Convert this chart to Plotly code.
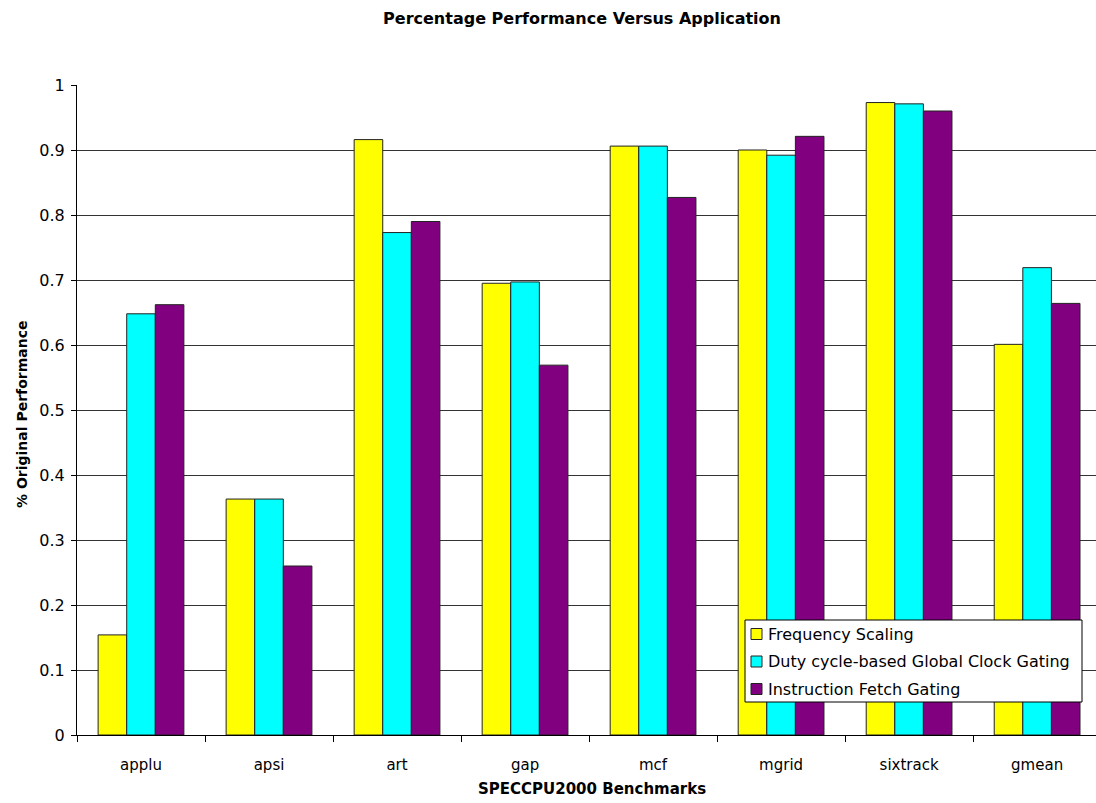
import plotly.graph_objects as go

benchmarks = ["applu", "apsi", "art", "gap", "mcf", "mgrid", "sixtrack", "gmean"]
freq_scaling = [0.154, 0.363, 0.916, 0.695, 0.906, 0.900, 0.973, 0.601]
duty_cycle_gating = [0.648, 0.363, 0.773, 0.697, 0.906, 0.892, 0.971, 0.719]
fetch_gating = [0.662, 0.260, 0.790, 0.569, 0.827, 0.921, 0.960, 0.664]
y_ticks = [0, 0.1, 0.2, 0.3, 0.4, 0.5, 0.6, 0.7, 0.8, 0.9, 1]
y_tick_text = ["0", "0.1", "0.2", "0.3", "0.4", "0.5", "0.6", "0.7", "0.8", "0.9", "1"]

series = [
    ("Frequency Scaling", freq_scaling, "#FFFF00"),
    ("Duty cycle-based Global Clock Gating", duty_cycle_gating, "#00FFFF"),
    ("Instruction Fetch Gating", fetch_gating, "#800080"),
]

font_family = "DejaVu Sans, Arial, sans-serif"
outline = "#222222"

# plot area geometry (pixels)
W, H = 1096, 803
L, R, T, B = 77, 0, 85, 68
PW, PH = W - L - R, H - T - B
Y0 = H - B  # pixel row of the x axis


def px_x(p):
    return (p - L) / PW


def px_y(p):
    return (Y0 - p) / PH


fig = go.Figure()
for name, vals, color in series:
    fig.add_trace(go.Bar(
        name=name, x=benchmarks, y=vals, showlegend=False,
        marker=dict(color=color, line=dict(color=outline, width=1)),
    ))

# boxed legend in the lower right of the plot area
leg_left, leg_right, leg_top, leg_bottom = 745, 1082, 620, 702
row_h = 27.5
shapes = [dict(type="rect", xref="paper", yref="paper",
               x0=px_x(leg_left), x1=px_x(leg_right),
               y0=px_y(leg_bottom), y1=px_y(leg_top),
               fillcolor="white", line=dict(color="black", width=1),
               layer="above")]
annotations = []
for i, (name, _, color) in enumerate(series):
    cy = leg_top + 14 + i * row_h
    shapes.append(dict(type="rect", xref="paper", yref="paper",
                       x0=px_x(751), x1=px_x(762),
                       y0=px_y(cy + 5.5), y1=px_y(cy - 5.5),
                       fillcolor=color, line=dict(color=outline, width=1),
                       layer="above"))
    annotations.append(dict(text=name, xref="paper", yref="paper",
                            x=px_x(766), y=px_y(cy), xanchor="left",
                            yanchor="middle", showarrow=False,
                            font=dict(size=16)))

annotations += [
    dict(text="<b>SPECCPU2000 Benchmarks</b>", xref="paper", yref="paper",
         x=px_x(592), y=px_y(789),
         xanchor="center", yanchor="middle", showarrow=False,
         font=dict(size=15)),
    dict(text="<b>% Original Performance</b>", xref="paper", yref="paper",
         x=px_x(22), y=px_y(415),
         xanchor="center", yanchor="middle", showarrow=False,
         textangle=-90, font=dict(size=14)),
]

fig.update_layout(
    width=W, height=H,
    margin=dict(l=L, r=R, t=T, b=B),
    paper_bgcolor="white", plot_bgcolor="white",
    barmode="group", bargap=0.33, bargroupgap=0,
    font=dict(family=font_family, size=15, color="black"),
    title=dict(
        text="<b>Percentage Performance Versus Application</b>",
        x=582 / W, xanchor="center",
        y=(H - 18) / H, yanchor="middle",
        font=dict(size=16),
    ),
    showlegend=False,
    xaxis=dict(
        range=[-0.5, 7.46],
        showline=True, linecolor="black", linewidth=1,
        ticks="outside", tickson="boundaries", ticklen=6,
        tickcolor="black", showgrid=False,
        tickfont=dict(size=15), ticklabelstandoff=16,
    ),
    yaxis=dict(
        range=[0, 1.0], tickvals=y_ticks, ticktext=y_tick_text,
        showline=True, linecolor="black", linewidth=1,
        ticks="outside", ticklen=5, tickcolor="black",
        showgrid=True, gridcolor="#333333", gridwidth=1,
        zeroline=False, tickfont=dict(size=16), ticklabelstandoff=3,
    ),
    shapes=shapes,
    annotations=annotations,
)

fig.write_html("out.html")
